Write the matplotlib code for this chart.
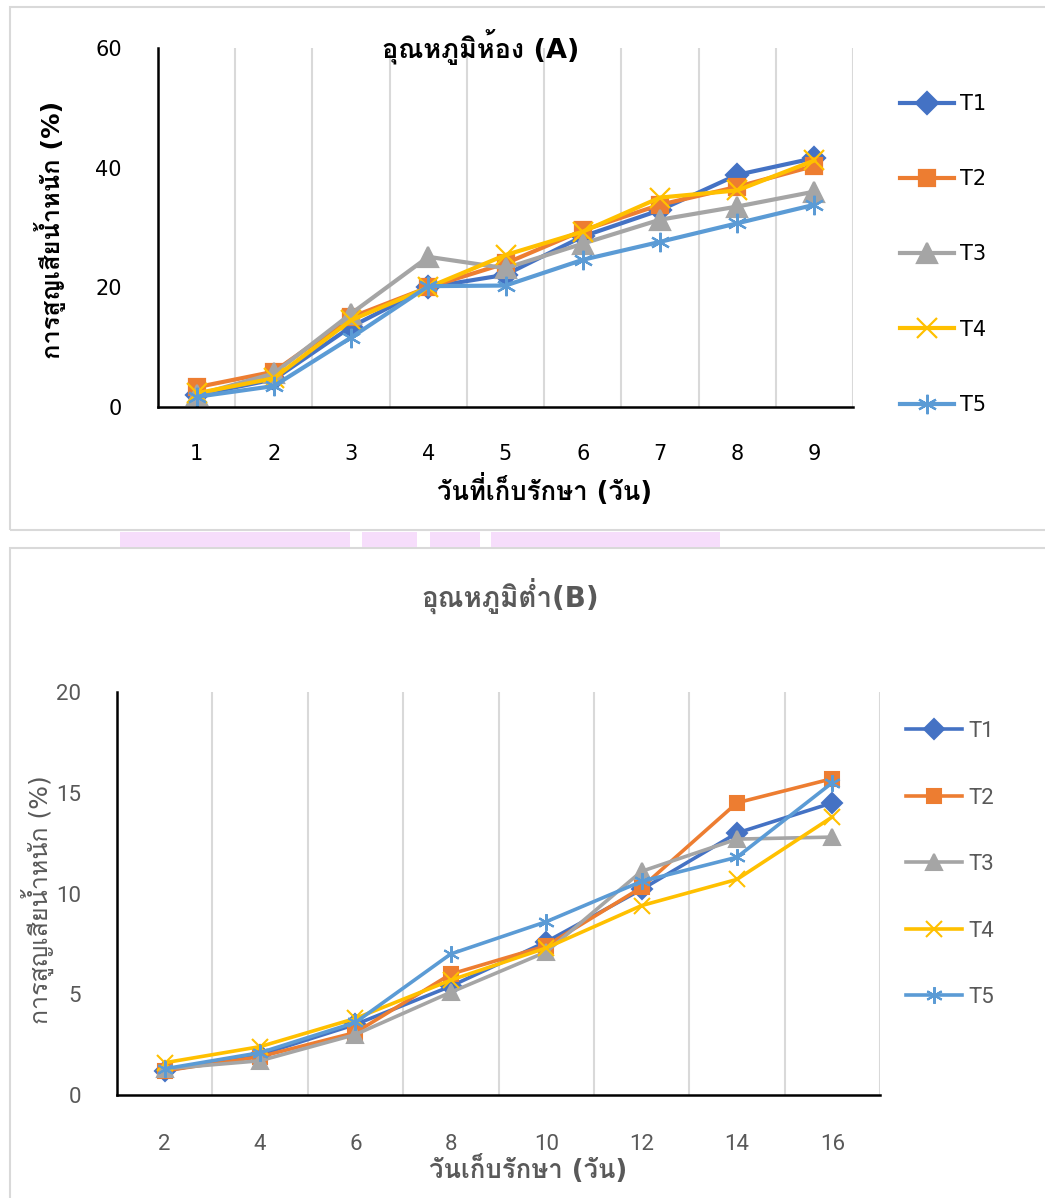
import numpy as np
import matplotlib
matplotlib.use("Agg")
import matplotlib.pyplot as plt
from matplotlib import font_manager as fm
from matplotlib.patches import Rectangle

# Latin from DejaVu, Thai falls back to Loma (Tahoma-like), else Sarabun
installed = {f.name for f in fm.fontManager.ttflist}
thai = "Loma" if "Loma" in installed else "Sarabun"
plt.rcParams["font.family"] = ["DejaVu Sans", thai]
light_fam = ["Roboto", thai]

# top chart: room temperature (A)
days_a = [1, 2, 3, 4, 5, 6, 7, 8, 9]
a_t1 = [2.0, 4.6, 13.4, 20.0, 22.1, 28.5, 32.9, 38.8, 41.6]
a_t2 = [3.3, 5.9, 15.0, 20.0, 24.0, 29.5, 33.8, 36.8, 40.3]
a_t3 = [2.0, 5.6, 15.6, 25.1, 23.2, 27.3, 31.3, 33.5, 36.0]
a_t4 = [2.3, 4.8, 14.5, 20.0, 25.4, 29.3, 35.0, 36.2, 41.2]
a_t5 = [1.7, 3.5, 11.6, 20.2, 20.3, 24.6, 27.6, 30.7, 33.8]

# bottom chart: low temperature (B)
days_b = [2, 4, 6, 8, 10, 12, 14, 16]
b_t1 = [1.2, 2.0, 3.5, 5.4, 7.6, 10.2, 13.0, 14.5]
b_t2 = [1.2, 1.9, 3.1, 6.0, 7.4, 10.3, 14.5, 15.7]
b_t3 = [1.3, 1.7, 3.0, 5.1, 7.1, 11.1, 12.7, 12.8]
b_t4 = [1.6, 2.4, 3.8, 5.7, 7.3, 9.4, 10.7, 13.8]
b_t5 = [1.3, 2.1, 3.6, 7.0, 8.6, 10.6, 11.8, 15.5]

labels = ["T1", "T2", "T3", "T4", "T5"]
colors = ["#4472C4", "#ED7D31", "#A5A5A5", "#FFC000", "#5B9BD5"]
markers = ["D", "s", "^", "x", (6, 2, 0)]

W, H = 1045, 1198
fig = plt.figure(figsize=(W / 100, H / 100), dpi=100)

def fx(px):
    return px / W

def fy(py):
    return 1 - py / H

# chart borders + the pink bits of the page behind
fig.patches.append(Rectangle((fx(10), fy(530)), fx(1040), 523 / H, transform=fig.transFigure,
                             fill=False, ec="#d9d9d9", lw=1.5))
fig.patches.append(Rectangle((fx(10), fy(1200)), fx(1040), 652 / H, transform=fig.transFigure,
                             fill=False, ec="#d9d9d9", lw=1.5))
for x0, x1 in [(120, 350), (362, 417), (430, 480), (491, 720)]:
    fig.patches.append(Rectangle((fx(x0), fy(547)), fx(x1 - x0), 15 / H, transform=fig.transFigure,
                                 fc="#f6ddfb", ec="none"))

def style_axes(ax, cats, ymax, ystep, txtcol, tsize, xpad, fam=None, weight="normal"):
    n = len(cats)
    ax.set_xlim(0.5, n + 0.5)
    ax.set_ylim(0, ymax)
    ax.set_xticks(range(1, n + 1))
    ax.set_xticklabels([str(c) for c in cats])
    ax.set_yticks(np.arange(0, ymax + 0.1, ystep))
    ax.set_xticks(np.arange(1.5, n + 1, 1), minor=True)
    ax.grid(which="minor", axis="x", color="#d9d9d9", lw=1.5)
    ax.tick_params(which="both", length=0)
    ax.tick_params(axis="y", pad=26, labelsize=tsize, labelcolor=txtcol)
    ax.tick_params(axis="x", pad=xpad, labelsize=tsize, labelcolor=txtcol)
    for s in ["top", "right"]:
        ax.spines[s].set_visible(False)
    for s in ["left", "bottom"]:
        ax.spines[s].set_color("black")
        ax.spines[s].set_linewidth(1.8)
    for lab in ax.get_xticklabels() + ax.get_yticklabels():
        lab.set_fontweight(weight)
        if fam:
            lab.set_family(fam)

# ---- top
ax1 = fig.add_axes([fx(158), fy(407), fx(853 - 158), (407 - 48) / H])
series_a = [a_t1, a_t2, a_t3, a_t4, a_t5]
x_a = np.arange(1, len(days_a) + 1)
for i, vals in enumerate(series_a):
    ms = 11 if markers[i] in ("D", "s") else 14
    ax1.plot(x_a, vals, color=colors[i], lw=3, marker=markers[i], ms=ms, mew=1.6,
             label=labels[i], clip_on=False)
style_axes(ax1, days_a, 60, 20, "black", 15, 27)
ax1.set_title("อุณหภูมิห้อง (A)", fontsize=19.5, fontweight="bold", y=0.95, x=0.465)
fig.text(fx(545), fy(490), "วันที่เก็บรักษา (วัน)", fontsize=18.5, fontweight="bold",
         ha="center", va="center")
fig.text(fx(50), fy(230), "การสูญเสียน้ำหนัก (%)", fontsize=18.3, fontweight="bold",
         ha="center", va="center", rotation=90)
leg1 = ax1.legend(loc="upper left", bbox_to_anchor=(1.055, 0.895), frameon=False, fontsize=15,
                  handlelength=2.6, handletextpad=0.3, labelspacing=2.65, borderaxespad=0)

# ---- bottom
grey = "#595959"
ax2 = fig.add_axes([fx(117), fy(1095), fx(880 - 117), (1095 - 692) / H])
series_b = [b_t1, b_t2, b_t3, b_t4, b_t5]
x_b = np.arange(1, len(days_b) + 1)
for i, vals in enumerate(series_b):
    ms = 10 if markers[i] in ("D", "s") else 12
    ax2.plot(x_b, vals, color=colors[i], lw=2.6, marker=markers[i], ms=ms, mew=1.5,
             label=labels[i], clip_on=False)
style_axes(ax2, days_b, 20, 5, grey, 16, 28, fam=light_fam, weight="normal")
ax2.set_title("อุณหภูมิต่ำ(B)", fontsize=20, fontweight="bold", color=grey, y=1.19, x=0.515)
fig.text(fx(528), fy(1170), "วันเก็บรักษา (วัน)", fontsize=18.5, fontweight="bold", color=grey,
         ha="center", va="center")
fig.text(fx(37), fy(900), "การสูญเสียน้ำหนัก (%)", fontsize=18, color=grey,
         ha="center", va="center", rotation=90)
leg2 = ax2.legend(loc="upper left", bbox_to_anchor=(1.023, 0.95), frameon=False,
                  prop={"family": light_fam, "weight": "normal", "size": 16},
                  handlelength=2.5, handletextpad=0.3, labelspacing=2.05, borderaxespad=0)
for t in leg2.get_texts():
    t.set_color(grey)

fig.savefig("out.png", dpi=100)
